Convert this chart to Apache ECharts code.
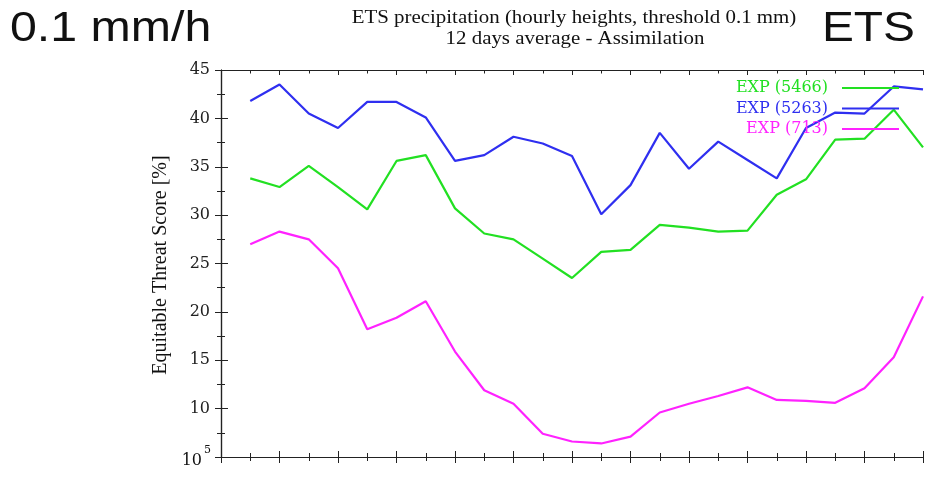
<!DOCTYPE html>
<html>
<head>
<meta charset="utf-8">
<script src="https://cdn.jsdelivr.net/npm/echarts@6/dist/echarts.min.js"></script>
<style>
  html, body { margin: 0; padding: 0; background: #fff; }
  #chart { width: 931px; height: 478px; }
</style>
</head>
<body>
<div id="chart"></div>
<script>
// forecast steps (x positions)
const steps = [1, 2, 3, 4, 5, 6, 7, 8, 9, 10, 11, 12, 13, 14, 15, 16, 17, 18, 19, 20, 21, 22, 23, 24];
const seriesNames = ["EXP (5466)", "EXP (5263)", "EXP (713)"];
const exp5466 = [33.8, 32.9, 35.1, 32.9, 30.6, 35.6, 36.2, 30.7, 28.1, 27.5, 25.5, 23.5, 26.2, 26.4, 29.0, 28.7, 28.3, 28.4, 32.1, 33.7, 37.8, 37.9, 40.9, 37.0];
const exp5263 = [41.8, 43.5, 40.5, 39.0, 41.7, 41.7, 40.1, 35.6, 36.2, 38.1, 37.4, 36.1, 30.1, 33.1, 38.5, 34.8, 37.6, 35.7, 33.8, 39.0, 40.6, 40.5, 43.3, 43.0];
const exp713 = [27.0, 28.3, 27.5, 24.5, 18.2, 19.4, 21.1, 15.9, 11.9, 10.5, 7.4, 6.6, 6.4, 7.1, 9.6, 10.5, 11.3, 12.2, 10.9, 10.8, 10.6, 12.1, 15.3, 21.6];
const yTicks = [5, 10, 15, 20, 25, 30, 35, 40, 45];

const colors = ["#22e022", "#2f2ff0", "#ff22ff"];
const allData = [exp5466, exp5263, exp713];

var myChart = echarts.init(document.getElementById("chart"));

function pairs(vals) {
  return steps.map((s, i) => [s, vals[i]]);
}

const axisLine = { show: true, lineStyle: { color: "#222", width: 1.2 } };

function xAx(position, inside, len, minorLen) {
  return {
    type: "value",
    position: position,
    min: 0,
    max: 24,
    interval: 2,
    axisLine: axisLine,
    axisTick: { show: true, inside: inside, length: len, lineStyle: { color: "#222" } },
    minorTick: { show: true, splitNumber: 2, length: minorLen, lineStyle: { color: "#222" } },
    axisLabel: { show: false },
    splitLine: { show: false },
    minorSplitLine: { show: false },
  };
}

let series = [];
for (let i = 0; i < seriesNames.length; i++) {
  series.push({
    name: seriesNames[i],
    type: "line",
    symbol: "none",
    xAxisIndex: 0,
    yAxisIndex: 0,
    lineStyle: { color: colors[i], width: 2.2 },
    itemStyle: { color: colors[i] },
    data: pairs(allData[i]),
  });
}

function txt(text, x, y, font, align, vAlign, extra) {
  return Object.assign({
    type: "text",
    x: x,
    y: y,
    silent: true,
    style: {
      text: text,
      font: font,
      fill: "#111",
      align: align, textAlign: align,
      verticalAlign: vAlign, textVerticalAlign: vAlign,
    },
  }, extra || {});
}

let option = {
  animation: false,
  backgroundColor: "#fff",
  grid: { left: 221, right: 8, top: 70, bottom: 21, containLabel: false },
  xAxis: [
    xAx("bottom", true, 6, 4),
    xAx("bottom", false, 6, 4),
    xAx("top", true, 5, 3.5),
  ],
  yAxis: [
    {
      type: "value",
      position: "left",
      min: yTicks[0],
      max: yTicks[yTicks.length - 1],
      interval: 5,
      axisLine: axisLine,
      axisTick: { show: true, inside: true, length: 7, lineStyle: { color: "#222" } },
      minorTick: { show: true, splitNumber: 2, length: 4, lineStyle: { color: "#222" } },
      axisLabel: {
        margin: 11,
        showMinLabel: false,
        color: "#222",
        fontFamily: "DejaVu Serif",
        fontSize: 16,
      },
      splitLine: { show: false },
    },
    {
      type: "value",
      position: "right",
      min: yTicks[0],
      max: yTicks[yTicks.length - 1],
      interval: 5,
      axisLine: axisLine,
      axisTick: { show: true, inside: true, length: 6, lineStyle: { color: "#222" } },
      minorTick: { show: true, splitNumber: 2, length: 4, lineStyle: { color: "#222" } },
      axisLabel: { show: false },
      splitLine: { show: false },
    },
  ],
  legend: {
    orient: "vertical",
    right: 32,
    top: 79,
    padding: 0,
    align: "right",
    icon: "rect",
    itemWidth: 57,
    itemHeight: 2,
    itemGap: 2.5,
    selectedMode: false,
    textStyle: {
      fontFamily: "DejaVu Serif",
      fontSize: 16,
      lineHeight: 18,
      padding: [0, 9, 0, 0],
    },
    data: seriesNames.map((n, i) => ({
      name: n,
      itemStyle: { color: colors[i] },
      textStyle: { color: colors[i] },
    })),
  },
  graphic: [
    txt("0.1 mm/h", 10, 29, '42px "Liberation Sans"', "left", "middle", { scaleX: 1.15 }),
    txt("ETS", 915, 29, '42px "Liberation Sans"', "right", "middle", { scaleX: 1.14 }),
    txt("ETS precipitation (hourly heights, threshold 0.1 mm)", 574, 18, '19px "Liberation Serif"', "center", "middle", { scaleX: 1.1 }),
    txt("12 days average - Assimilation", 575, 39, '19px "Liberation Serif"', "center", "middle", { scaleX: 1.1 }),
    txt("Equitable Threat Score [%]", 161, 265, '20px "Liberation Serif"', "center", "middle", { rotation: Math.PI / 2 }),
    txt("10", 202, 461, '16px "DejaVu Serif"', "right", "middle"),
    txt("5", 211, 450, '11px "DejaVu Serif"', "right", "middle"),
  ],
  series: series,
};

myChart.setOption(option);
</script>
</body>
</html>
